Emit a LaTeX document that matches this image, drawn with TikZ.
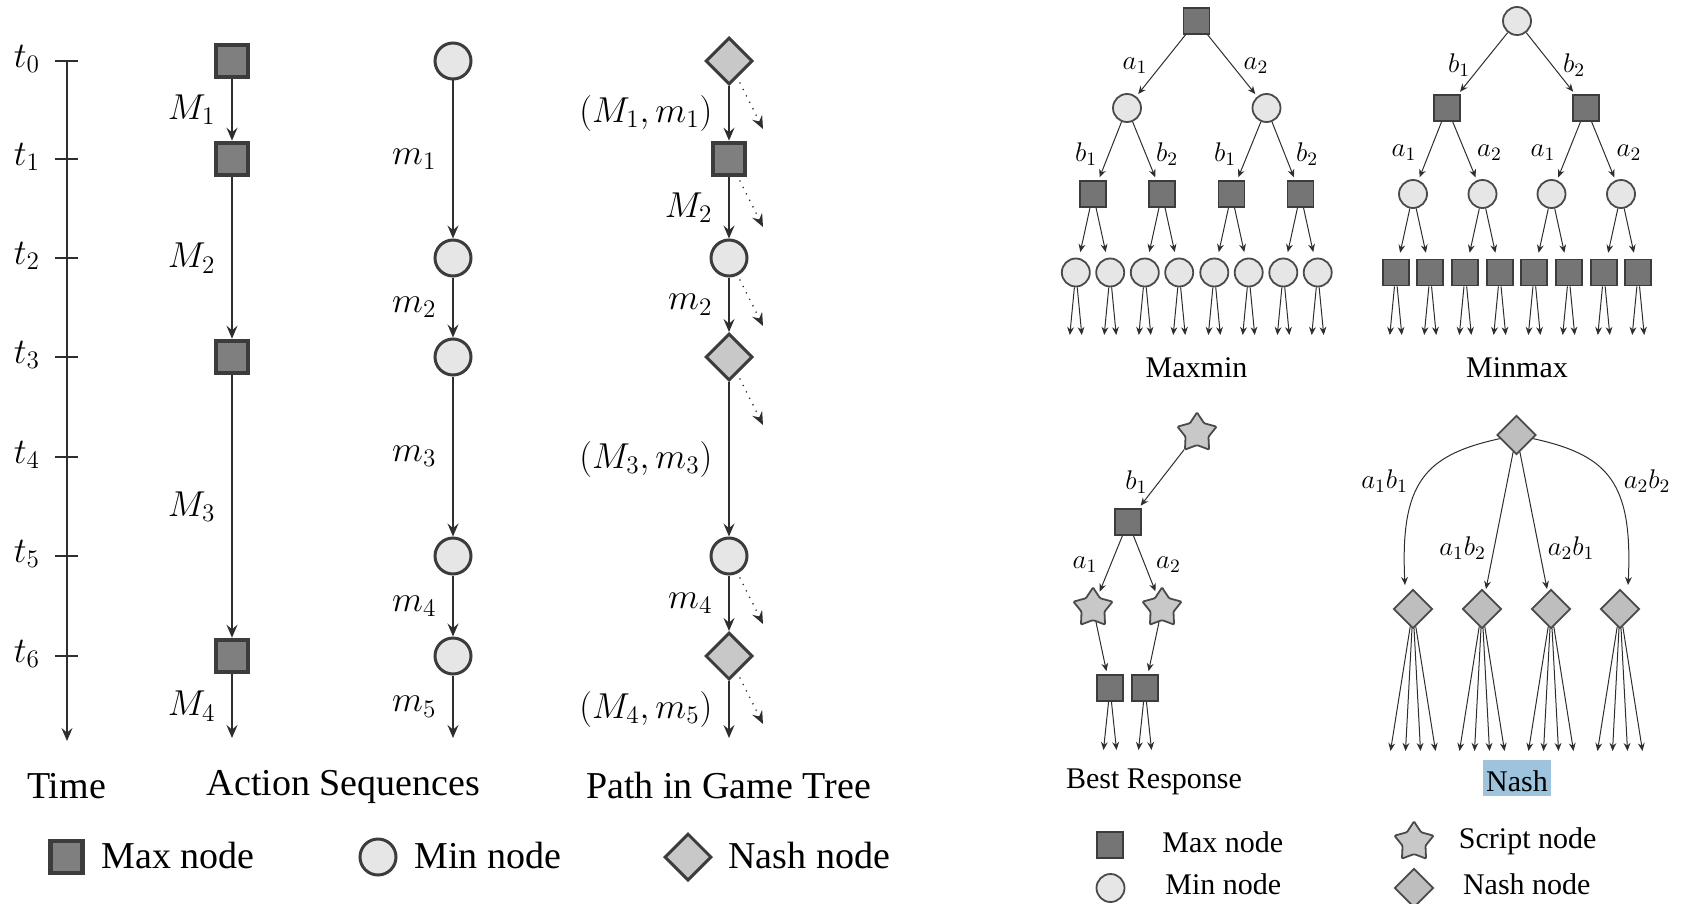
\RequirePackage{fix-cm}
\documentclass[tikz,border=0pt]{standalone}
\usepackage{fontspec}
\setmainfont{Liberation Serif}
\usetikzlibrary{shapes.geometric,arrows.meta}

\definecolor{rimdark}{HTML}{3C3C3C}
\definecolor{maxgray}{HTML}{7F7F7F}
\definecolor{mingray}{HTML}{E6E6E6}
\definecolor{nashgray}{HTML}{C8C8C8}
\definecolor{inkgray}{HTML}{2E2E2E}
\definecolor{rimmid}{HTML}{4A4A4A}
\definecolor{markblue}{RGB}{157,195,221}

\tikzset{
  % large nodes of the sequence panel
  bigmax/.style={rectangle, draw=rimdark, line width=2.3pt, fill=maxgray, minimum size=16pt, inner sep=0pt},
  bigmin/.style={circle, draw=rimdark, line width=1.5pt, fill=mingray, minimum size=18pt, inner sep=0pt},
  bignash/.style={diamond, draw=rimdark, line width=1.5pt, fill=nashgray, minimum size=23.5pt, inner sep=0pt},
  bigarrow/.style={draw=inkgray, line width=0.65pt, -{Stealth[length=6.5pt,width=5.5pt,inset=2.3pt]}},
  dotarrow/.style={bigarrow, line cap=round, dash pattern=on 0pt off 3.6pt, line width=0.9pt},
  seqlbl/.style={inner sep=0pt, font=\fontsize{18}{21}\selectfont},
  bigtext/.style={inner sep=0pt, font=\fontsize{19}{22}\selectfont},
  % small nodes of the tree panels
  smax/.style={rectangle, draw=rimdark, line width=0.9pt, fill=maxgray!92!black, minimum size=13pt, inner sep=0pt},
  smin/.style={circle, draw=rimmid, line width=0.9pt, fill=mingray, minimum size=14pt, inner sep=0pt},
  sstar/.style={star, star points=5, star point ratio=1.7, draw=rimmid, line width=0.9pt, fill=nashgray, minimum size=20.5pt, inner sep=0pt, rounded corners=0.5pt},
  snash/.style={diamond, draw=rimmid, line width=0.9pt, fill=nashgray!95!black, minimum size=19.5pt, inner sep=0pt},
  sarrow/.style={draw=inkgray, line width=0.5pt, shorten >=1.5pt, -{Stealth[length=4pt,width=3.4pt,inset=1.3pt]}},
  leafarrow/.style={draw=inkgray, line width=0.5pt, -{Stealth[length=4pt,width=3.4pt,inset=1.3pt]}},
  slbl/.style={inner sep=0pt, font=\fontsize{13.5}{16}\selectfont},
  smalltext/.style={inner sep=0pt, font=\fontsize{15}{18}\selectfont},
}

\begin{document}
\begin{tikzpicture}[x=0.5pt, y=-0.5pt]
\useasboundingbox (0,0) rectangle (1685,904);

% ---------------- time axis ----------------
\coordinate (ax0) at (67,61);
\coordinate (axEnd) at (67,741);
\draw[bigarrow] (ax0) -- (axEnd);
\foreach \k/\yy in {0/61,1/159,2/258,3/357,4/457,5/556,6/656}{
  \draw[draw=inkgray, line width=0.65pt] (55,\yy) -- (78,\yy);
  \node[seqlbl] (tl\k) at (27,{\yy-2}) {$t_{\k}$};
}

% ---------------- max player's actions ----------------
\node[bigmax] (sq0) at (232,61) {};
\node[bigmax] (sq1) at (232,159) {};
\node[bigmax] (sq3) at (232,357) {};
\node[bigmax] (sq6) at (232,656) {};
\coordinate (sqEnd) at (232,738);
\draw[bigarrow] (sq0) -- node[seqlbl, midway, left=8pt] {$M_1$} (sq1);
\draw[bigarrow] (sq1) -- node[seqlbl, midway, left=8pt] {$M_2$} (sq3);
\draw[bigarrow] (sq3) -- node[seqlbl, midway, left=8pt] {$M_3$} (sq6);
\draw[bigarrow] (sq6) -- node[seqlbl, midway, left=8pt] {$M_4$} (sqEnd);

% ---------------- min player's actions ----------------
\node[bigmin] (ci0) at (453,61) {};
\node[bigmin] (ci2) at (453,258) {};
\node[bigmin] (ci3) at (453,357) {};
\node[bigmin] (ci5) at (453,556) {};
\node[bigmin] (ci6) at (453,656) {};
\coordinate (ciEnd) at (453,738);
\draw[bigarrow] (ci0) -- node[seqlbl, midway, left=8pt] {$m_1$} (ci2);
\draw[bigarrow] (ci2) -- node[seqlbl, midway, left=8pt] {$m_2$} (ci3);
\draw[bigarrow] (ci3) -- node[seqlbl, midway, left=8pt] {$m_3$} (ci5);
\draw[bigarrow] (ci5) -- node[seqlbl, midway, left=8pt] {$m_4$} (ci6);
\draw[bigarrow] (ci6) -- node[seqlbl, midway, left=8pt] {$m_5$} (ciEnd);

% ---------------- merged path in the game tree ----------------
\node[bignash] (p0) at (729,61) {};
\node[bigmax]  (p1) at (729,159) {};
\node[bigmin]  (p2) at (729,258) {};
\node[bignash] (p3) at (729,357) {};
\node[bigmin]  (p5) at (729,556) {};
\node[bignash] (p6) at (729,656) {};
\coordinate (pEnd) at (729,738);
\draw[bigarrow] (p0) -- node[seqlbl, midway, left=8pt] {$(M_1,m_1)$} (p1);
\draw[bigarrow] (p1) -- node[seqlbl, midway, left=8pt] {$M_2$} (p2);
\draw[bigarrow] (p2) -- node[seqlbl, midway, left=8pt] {$m_2$} (p3);
\draw[bigarrow] (p3) -- node[seqlbl, midway, left=8pt] {$(M_3,m_3)$} (p5);
\draw[bigarrow] (p5) -- node[seqlbl, midway, left=8pt] {$m_4$} (p6);
\draw[bigarrow] (p6) -- node[seqlbl, midway, left=8pt] {$(M_4,m_5)$} (pEnd);
% branches not taken
\foreach \n in {p0,p1,p2,p3,p5,p6}{
  \coordinate (\n-ds) at ([shift={(11,22)}]\n.center);
  \coordinate (\n-de) at ([shift={(34,68)}]\n.center);
  \draw[dotarrow] (\n-ds) -- (\n-de);
}

% ---------------- captions and legend (left) ----------------
\node[bigtext, anchor=base] (capTime) at (66.5,798) {Time};
\node[bigtext, anchor=base] (capSeq) at (343.4,795) {Action Sequences};
\node[bigtext, anchor=base] (capPath) at (728.6,798) {Path in Game Tree};

\node[bigmax] (lgMax) at (66.5,857) {};
\node[bigtext, anchor=base west] (lgMaxT) at (101,868) {Max node};
\node[bigmin] (lgMin) at (378,857) {};
\node[bigtext, anchor=base west] (lgMinT) at (414,868) {Min node};
\node[bignash] (lgNash) at (688,857) {};
\node[bigtext, anchor=base west] (lgNashT) at (728,868) {Nash node};

% ---------------- Maxmin tree ----------------
\node[smax] (xr) at (1196.5,21) {};
\node[smin] (xa) at (1127,108) {};
\node[smin] (xb) at (1266.5,108) {};
\node[smax] (xaa) at (1093,194) {};
\node[smax] (xab) at (1162,194) {};
\node[smax] (xba) at (1231.5,194) {};
\node[smax] (xbb) at (1300.5,194) {};
\draw[sarrow] (xr) -- (xa);
\draw[sarrow] (xr) -- (xb);
\draw[sarrow] (xa) -- (xaa);
\draw[sarrow] (xa) -- (xab);
\draw[sarrow] (xb) -- (xba);
\draw[sarrow] (xb) -- (xbb);
\node[slbl] at (1135,65.5) {$a_1$};
\node[slbl] at (1256,65.5) {$a_2$};
\node[slbl] at (1086,154) {$b_1$};
\node[slbl] at (1167,154) {$b_2$};
\node[slbl] at (1225,154) {$b_1$};
\node[slbl] at (1307,154) {$b_2$};
\foreach \p/\x in {xaa/1093,xab/1162,xba/1231.5,xbb/1300.5}{
  \node[smin] (\p1) at ({\x-17.2},272.5) {};
  \node[smin] (\p2) at ({\x+17.2},272.5) {};
  \draw[sarrow, shorten >=3pt] (\p) -- (\p1);
  \draw[sarrow, shorten >=3pt] (\p) -- (\p2);
  \coordinate (\p1l) at ({\x-17.2-6},335);
  \coordinate (\p1r) at ({\x-17.2+6},335);
  \coordinate (\p2l) at ({\x+17.2-6},335);
  \coordinate (\p2r) at ({\x+17.2+6},335);
  \draw[leafarrow] (\p1) -- (\p1l);
  \draw[leafarrow] (\p1) -- (\p1r);
  \draw[leafarrow] (\p2) -- (\p2l);
  \draw[leafarrow] (\p2) -- (\p2r);
}
\node[smalltext, anchor=base] (capMaxmin) at (1196.5,377) {Maxmin};

% ---------------- Minmax tree ----------------
\node[smin] (yr) at (1517,21) {};
\node[smax] (ya) at (1447,108) {};
\node[smax] (yb) at (1586,108) {};
\node[smin] (yaa) at (1413,194) {};
\node[smin] (yab) at (1482.5,194) {};
\node[smin] (yba) at (1551.5,194) {};
\node[smin] (ybb) at (1621,194) {};
\draw[sarrow] (yr) -- (ya);
\draw[sarrow] (yr) -- (yb);
\draw[sarrow] (ya) -- (yaa);
\draw[sarrow] (ya) -- (yab);
\draw[sarrow] (yb) -- (yba);
\draw[sarrow] (yb) -- (ybb);
\node[slbl] at (1459,65.5) {$b_1$};
\node[slbl] at (1574,65.5) {$b_2$};
\node[slbl] at (1404,153) {$a_1$};
\node[slbl] at (1489.5,153) {$a_2$};
\node[slbl] at (1543,153) {$a_1$};
\node[slbl] at (1629,153) {$a_2$};
\foreach \p/\x in {yaa/1413,yab/1482.5,yba/1551.5,ybb/1621}{
  \node[smax] (\p1) at ({\x-17.2},272.5) {};
  \node[smax] (\p2) at ({\x+17.2},272.5) {};
  \draw[sarrow, shorten >=3pt] (\p) -- (\p1);
  \draw[sarrow, shorten >=3pt] (\p) -- (\p2);
  \coordinate (\p1l) at ({\x-17.2-6},335);
  \coordinate (\p1r) at ({\x-17.2+6},335);
  \coordinate (\p2l) at ({\x+17.2-6},335);
  \coordinate (\p2r) at ({\x+17.2+6},335);
  \draw[leafarrow] (\p1) -- (\p1l);
  \draw[leafarrow] (\p1) -- (\p1r);
  \draw[leafarrow] (\p2) -- (\p2l);
  \draw[leafarrow] (\p2) -- (\p2r);
}
\node[smalltext, anchor=base] (capMinmax) at (1517,377) {Minmax};

% ---------------- Best response tree ----------------
\node[sstar] (br) at (1197,433) {};
\node[smax] (brm) at (1128,522) {};
\node[sstar] (brs1) at (1093,608) {};
\node[sstar] (brs2) at (1162,608) {};
\node[smax] (brq1) at (1110,688) {};
\node[smax] (brq2) at (1145,688) {};
\draw[sarrow] (br) -- (brm);
\draw[sarrow] (brm) -- (brs1);
\draw[sarrow] (brm) -- (brs2);
\draw[sarrow] (brs1) -- (brq1);
\draw[sarrow] (brs2) -- (brq2);
\node[slbl] at (1136.4,482) {$b_1$};
\node[slbl] at (1085,564.7) {$a_1$};
\node[slbl] at (1168.4,564.7) {$a_2$};
\foreach \p/\x in {brq1/1110,brq2/1145}{
  \coordinate (\p l) at ({\x-6.5},750);
  \coordinate (\p r) at ({\x+6.5},750);
  \draw[leafarrow] (\p) -- (\p l);
  \draw[leafarrow] (\p) -- (\p r);
}
\node[smalltext, anchor=base] (capBR) at (1154,788.6) {Best Response};

% ---------------- Nash tree ----------------
\node[snash] (nr) at (1516.5,435) {};
\node[snash] (n1) at (1413,609) {};
\node[snash] (n2) at (1482,609) {};
\node[snash] (n3) at (1551,609) {};
\node[snash] (n4) at (1620,609) {};
% joint-action branches: the outer ones arc out wide
\coordinate (n1top) at (1405,586);
\coordinate (n4top) at (1628,586);
\draw[sarrow, shorten >=0.5pt] (nr) .. controls (1425,455) and (1400,482) .. (n1top);
\draw[sarrow] (nr) -- (n2);
\draw[sarrow] (nr) -- (n3);
\draw[sarrow, shorten >=0.5pt] (nr) .. controls (1608,455) and (1633,482) .. (n4top);
\node[slbl] at (1384.6,480.7) {$a_1b_1$};
\node[slbl] at (1647,480.7) {$a_2b_2$};
\node[slbl] at (1462.6,548) {$a_1b_2$};
\node[slbl] at (1571,548) {$a_2b_1$};
\foreach \p/\x in {n1/1413,n2/1482,n3/1551,n4/1620}{
  \foreach \d [count=\j] in {-22.5,-7.5,7.5,22.5}{
    \coordinate (\p e\j) at ({\x+\d},751);
    \draw[leafarrow] (\p) -- (\p e\j);
  }
}
\node[smalltext, anchor=base, fill=markblue, inner xsep=1.5pt, inner ysep=1pt, text height=15pt, text depth=1pt] (capNash) at (1517,791.5) {Nash};

% ---------------- legend (right) ----------------
\node[smax] (rlMax) at (1110,845) {};
\node[smalltext, anchor=base west] (rlMaxT) at (1162,852.5) {Max node};
\node[smin] (rlMin) at (1110.5,888) {};
\node[smalltext, anchor=base west] (rlMinT) at (1165,894.5) {Min node};
\node[sstar] (rlStar) at (1414,842) {};
\node[smalltext, anchor=base west] (rlStarT) at (1458.5,848.5) {Script node};
\node[snash] (rlNash) at (1414,888) {};
\node[smalltext, anchor=base west] (rlNashT) at (1462.6,894.5) {Nash node};
\end{tikzpicture}
\end{document}
